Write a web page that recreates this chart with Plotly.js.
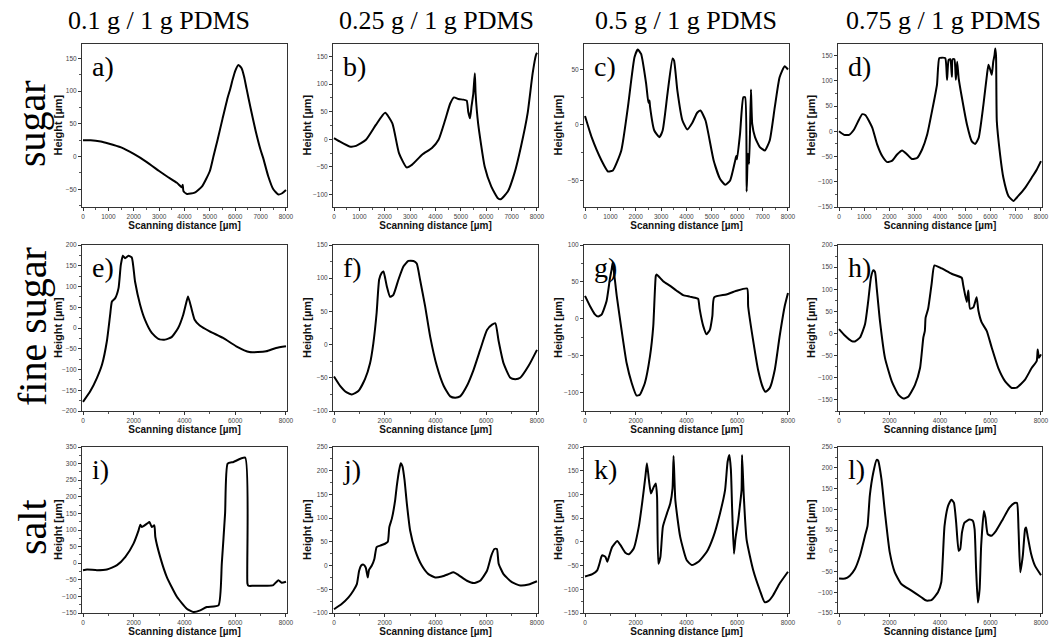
<!DOCTYPE html>
<html><head><meta charset="utf-8">
<script src="https://cdn.plot.ly/plotly-3.0.1.min.js"></script>
<style>html,body{margin:0;padding:0;background:#fff}#chart{width:1058px;height:640px}</style>
</head><body><div id="chart"></div>
<script>
// ---- data (scanning distance in µm, height in µm) ----
const aX=[0,300,700,1000,1500,2000,2500,3000,3300,3700,3900,3930,3960,4100,4400,4700,5000,5140,5300,5500,5700,5800,5900,6000,6125,6250,6350,6450,6600,6800,7000,7100,7300,7500,7700,7850,8000];
const aY=[25,25,23,20,14,4,-8,-22,-30,-40,-47,-43,-53,-57,-55,-45,-22,0,25,58,90,103,118,131,140,135,122,103,75,40,10,-2,-30,-50,-58,-56,-51];
const bX=[0,220,610,870,1260,1650,2015,2300,2560,2860,3080,3470,3860,4120,4380,4580,4730,4900,5100,5230,5290,5360,5420,5490,5550,5580,5680,5940,6200,6460,6570,6850,7110,7370,7630,7830,7960,8000];
const bY=[2,-4,-13,-12,-1,26,48,29,-25,-51,-46,-28,-16,-1,35,65,76,73,72,70,50,38,60,83,120,83,29,-50,-86,-107,-109,-95,-62,-13,47,120,153,157];
const cX=[0,260,650,910,1100,1430,1690,1950,2080,2210,2410,2500,2540,2560,2730,2930,3060,3250,3450,3510,3640,3840,4030,4230,4420,4550,4750,5070,5330,5530,5720,5920,5960,5990,6110,6240,6310,6370,6420,6470,6540,6590,6700,6890,7090,7280,7480,7670,7870,8000];
const cY=[8,-11,-32,-42,-41,-23,16,61,68,64,37,20,22,17,-5,-11,-5,28,60,58,31,4,-4,2,11,13,4,-32,-49,-54,-50,-32,-28,-31,-8,25,25,-60,-26,-35,32,1,-11,-20,-23,-14,16,43,53,50];
const dX=[0,200,400,590,790,920,1050,1320,1510,1710,1910,2110,2300,2500,2700,2890,3090,3290,3490,3680,3880,3970,4080,4210,4280,4340,4410,4470,4500,4570,4630,4680,4740,4870,5070,5260,5390,5530,5720,5860,5920,5990,6050,6110,6160,6190,6220,6250,6380,6510,6710,6910,7100,7370,7630,7830,8000];
const dY=[0,-7,-7,3,23,34,32,7,-26,-49,-61,-58,-46,-38,-46,-55,-53,-36,-7,39,92,145,146,145,102,141,143,108,143,143,102,138,105,66,13,-20,-25,-13,53,112,132,122,112,138,151,164,148,20,-46,-92,-128,-138,-128,-112,-92,-76,-59];
const eX=[0,290,550,750,940,1070,1140,1270,1400,1490,1570,1660,1790,1920,2050,2250,2440,2710,2970,3230,3490,3750,3950,4080,4140,4270,4400,4600,4990,5520,6040,6560,6890,7220,7610,8000];
const eY=[-178,-152,-120,-88,-32,32,64,72,96,152,174,168,174,170,112,56,20,-12,-26,-28,-22,0,32,64,76,48,20,6,-8,-24,-44,-58,-58,-56,-48,-44];
const fX=[0,240,500,700,960,1220,1420,1550,1680,1780,1880,1950,2080,2210,2340,2540,2740,2930,3130,3260,3390,3590,3790,4050,4320,4580,4780,4970,5240,5500,5760,6030,6230,6360,6490,6680,6950,7140,7340,7670,8000];
const fY=[-48,-62,-72,-75,-70,-52,-28,2,48,98,108,110,88,72,75,98,118,126,126,122,98,58,12,-32,-62,-78,-80,-78,-62,-38,-8,22,30,32,5,-28,-50,-52,-50,-32,-8];
const gX=[0,200,390,520,660,850,980,1050,1090,1250,1440,1640,1840,2030,2160,2360,2560,2690,2790,2820,3080,3340,3610,3870,4130,4390,4460,4520,4660,4790,4920,5020,5090,5570,5970,6390,6430,6620,6820,7020,7110,7280,7480,7670,7870,8000];
const gY=[31,17,6,3,6,24,54,67,76,31,-15,-60,-87,-104,-103,-87,-51,-10,58,60,51,45,38,32,30,28,27,13,-10,-21,-15,4,29,33,38,41,17,-28,-69,-94,-99,-94,-69,-24,17,35];
const hX=[0,240,500,630,830,1030,1160,1270,1360,1425,1490,1620,1820,2090,2350,2550,2750,3010,3210,3340,3400,3430,3530,3670,3780,4070,4460,4860,4920,5060,5120,5190,5320,5450,5520,5650,5850,6050,6310,6580,6840,7040,7370,7630,7830,7870,7920,8000];
const hY=[10,-5,-17,-18,-9,21,75,128,143,139,105,29,-55,-108,-138,-147,-142,-116,-78,-9,6,36,56,113,154,147,135,126,109,71,97,56,59,82,52,25,6,-32,-78,-108,-123,-122,-104,-78,-62,-36,-55,-47];
const iX=[0,160,550,940,1340,1670,1990,2190,2260,2320,2520,2620,2710,2810,2850,3040,3300,3700,4090,4350,4620,4880,5340,5470,5600,5700,5930,6390,6480,6520,6720,7240,7500,7700,7830,8000];
const iY=[-21,-19,-21,-19,-6,19,59,99,116,109,119,124,109,114,79,19,-41,-101,-137,-147,-142,-132,-127,-1,150,300,305,318,-61,-68,-68,-68,-66,-51,-59,-56];
const jX=[0,300,570,760,900,990,1070,1160,1250,1330,1380,1490,1590,1680,1820,2010,2120,2180,2280,2410,2470,2570,2630,2700,2780,2870,3000,3200,3460,3720,3990,4250,4510,4710,4910,5240,5500,5760,6030,6200,6320,6420,6490,6680,7010,7340,7670,8000];
const jY=[-92,-81,-67,-53,-39,-11,0,2,-4,-25,-9,0,14,39,42,46,50,81,99,138,166,202,216,209,180,131,74,32,0,-18,-25,-23,-18,-14,-20,-32,-37,-32,-11,21,35,35,4,-18,-35,-42,-40,-33];
const kX=[0,290,480,590,640,680,810,880,940,1070,1270,1400,1590,1730,1920,2120,2250,2380,2440,2520,2600,2710,2790,2840,2890,2970,3070,3230,3360,3450,3490,3560,3750,4010,4210,4470,4800,5060,5320,5520,5620,5690,5750,5800,5870,5930,6040,6100,6170,6190,6260,6370,6630,6890,7080,7220,7410,7670,8000];
const kY=[-73,-68,-60,-42,-32,-28,-32,-42,-32,-11,2,-7,-23,-26,-14,32,81,138,166,130,102,116,123,95,-46,-32,32,60,81,113,181,88,11,-39,-49,-42,-21,11,60,109,169,183,152,67,-25,7,46,74,109,183,95,4,-60,-102,-127,-125,-113,-88,-63];
const lX=[0,240,430,630,830,1030,1130,1220,1360,1490,1550,1680,1820,2010,2210,2470,2870,3260,3460,3660,3920,4050,4180,4320,4450,4550,4640,4740,4800,4870,4970,5170,5300,5370,5430,5500,5570,5630,5740,5800,5890,6030,6220,6490,6750,6950,7050,7110,7180,7280,7370,7410,7470,7610,7760,8000];
const lY=[-67,-67,-60,-44,-12,36,60,133,189,219,217,173,92,-4,-52,-80,-96,-112,-120,-119,-100,-76,60,108,123,116,68,0,4,44,68,75,72,52,-44,-125,-92,12,96,80,40,36,48,76,104,115,115,52,-52,-12,52,56,36,-8,-36,-59];

const panelLetters=['a)','b)','c)','d)','e)','f)','g)','h)','i)','j)','k)','l)'];
const columnTitles=['0.1 g / 1 g PDMS','0.25 g / 1 g PDMS','0.5 g / 1 g PDMS','0.75 g / 1 g PDMS'];
const rowLabels=['sugar','fine sugar','salt'];
const xAxisTitle='Scanning distance [µm]';
const yAxisTitle='Height [µm]';
const yRanges=[[-77,172],[-123,173],[-74,73],[-150,173],[-200,200],[-100,150],[-125,100],[-175,200],[-150,350],[-100,250],[-150,200],[-150,250]];

const series=[[aX,aY],[bX,bY],[cX,cY],[dX,dY],[eX,eY],[fX,fY],[gX,gY],[hX,hY],[iX,iY],[jX,jY],[kX,kY],[lX,lY]];

// ---- layout geometry (pixels) ----
const W=1058,H=640;
const colBox=[[82,287],[333,538],[584,789],[838,1042]];
const rowBox=[[44,207],[245,411],[447,613]];
const colTitleX=[159,436,686,943];
const rowLabelY=[124,327,527];
const yTitleOffset=[24,26,26,27];

const serif='"Liberation Serif","Times New Roman",serif';
const sans='"Liberation Sans",Arial,sans-serif';

const data=[];
const layout={width:W,height:H,margin:{l:0,r:0,t:0,b:0},paper_bgcolor:'#fff',plot_bgcolor:'#fff',showlegend:false,annotations:[]};

series.forEach((s,i)=>{
  const r=Math.floor(i/4), c=i%4, n=i+1, sfx=(n===1?'':String(n));
  data.push({x:s[0],y:s[1],type:'scatter',mode:'lines',xaxis:'x'+sfx,yaxis:'y'+sfx,
    line:{color:'#000',width:2,shape:'spline',smoothing:0.5},hoverinfo:'skip'});
  const dx=r===0?1000:2000;
  layout['xaxis'+sfx]={domain:[colBox[c][0]/W,colBox[c][1]/W],range:[-40,8040],anchor:'y'+sfx,
    tickmode:'linear',tick0:0,dtick:dx,showline:true,mirror:true,linecolor:'#333',linewidth:1,
    ticks:'outside',ticklen:3,tickwidth:1,tickcolor:'#333',showgrid:false,zeroline:false,
    minor:{ticks:'outside',ticklen:2,dtick:dx/2,tickcolor:'#555'},
    tickfont:{family:sans,size:6.5,color:'#444'},
    title:{text:'<b>'+xAxisTitle+'</b>',font:{family:sans,size:10,color:'#111'},standoff:3}};
  layout['yaxis'+sfx]={domain:[1-rowBox[r][1]/H,1-rowBox[r][0]/H],range:yRanges[i],anchor:'x'+sfx,
    tickmode:'linear',tick0:0,dtick:50,showline:true,mirror:true,linecolor:'#333',linewidth:1,
    ticks:'outside',ticklen:3,tickwidth:1,tickcolor:'#333',showgrid:false,zeroline:false,
    minor:{ticks:'outside',ticklen:2,dtick:25,tickcolor:'#555'},
    tickfont:{family:sans,size:6.5,color:'#444'}};
  // y-axis title placed explicitly beside the tick labels
  layout.annotations.push({text:'<b>'+yAxisTitle+'</b>',xref:'paper',yref:'paper',
    x:(colBox[c][0]-yTitleOffset[c])/W,y:1-((rowBox[r][0]+rowBox[r][1])/2)/H,xanchor:'center',yanchor:'middle',
    textangle:-90,showarrow:false,font:{family:sans,size:11,color:'#111'}});
  layout.annotations.push({text:panelLetters[i],xref:'paper',yref:'paper',
    x:(colBox[c][0]+8)/W,y:1-(rowBox[r][0]+22)/H,xanchor:'left',yanchor:'middle',showarrow:false,
    font:{family:serif,size:28,color:'#000'}});
});
columnTitles.forEach((t,c)=>{
  layout.annotations.push({text:t,xref:'paper',yref:'paper',x:colTitleX[c]/W,y:1-20/H,xanchor:'center',yanchor:'middle',
    showarrow:false,font:{family:serif,size:26,color:'#000'}});
});
rowLabels.forEach((t,r)=>{
  layout.annotations.push({text:t,xref:'paper',yref:'paper',x:32/W,y:1-rowLabelY[r]/H,xanchor:'center',yanchor:'middle',
    textangle:-90,showarrow:false,font:{family:serif,size:40,color:'#000'}});
});

Plotly.newPlot('chart',data,layout,{staticPlot:true,displayModeBar:false});
</script></body></html>
